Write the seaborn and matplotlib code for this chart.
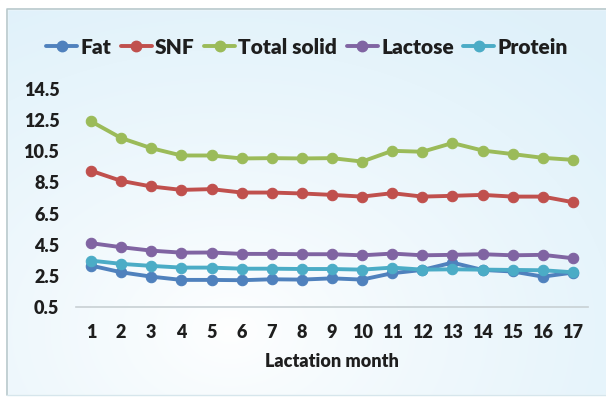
import numpy as np
import pandas as pd
import matplotlib
matplotlib.use("Agg")
import matplotlib.pyplot as plt
from matplotlib.patches import Rectangle
from matplotlib.lines import Line2D
import seaborn as sns

months = list(range(1, 18))
fat = [3.16, 2.73, 2.45, 2.24, 2.24, 2.22, 2.28, 2.26, 2.34, 2.26, 2.67, 2.88, 3.35, 2.88, 2.78, 2.45, 2.71]
snf = [9.25, 8.60, 8.24, 8.02, 8.07, 7.85, 7.85, 7.79, 7.70, 7.59, 7.81, 7.59, 7.64, 7.70, 7.59, 7.59, 7.23]
total_solid = [12.42, 11.35, 10.70, 10.23, 10.23, 10.04, 10.06, 10.04, 10.06, 9.84, 10.53, 10.47, 11.03, 10.55, 10.32, 10.08, 9.95]
lactose = [4.60, 4.34, 4.12, 3.99, 4.00, 3.91, 3.91, 3.89, 3.89, 3.82, 3.93, 3.82, 3.85, 3.89, 3.82, 3.85, 3.63]
protein = [3.48, 3.27, 3.14, 3.03, 3.03, 2.96, 2.96, 2.94, 2.94, 2.90, 3.03, 2.90, 2.92, 2.90, 2.88, 2.86, 2.73]
series_names = ["Fat", "SNF", "Total solid", "Lactose", "Protein"]
colors = ["#4F81BD", "#C0504D", "#9BBB59", "#8064A2", "#4BACC6"]
y_ticks = [0.5, 2.5, 4.5, 6.5, 8.5, 10.5, 12.5, 14.5]

df = pd.DataFrame({
    "month": months * 5,
    "value": fat + snf + total_solid + lactose + protein,
    "component": sum([[n] * len(months) for n in series_names], []),
})

sns.set_theme(style="white")
plt.rcParams["font.family"] = ["Lato", "DejaVu Sans"]
plt.rcParams["font.weight"] = "heavy"
TXT = "#1e1e1e"

W, H = 606, 397
fig = plt.figure(figsize=(W / 100, H / 100), dpi=100)
fig.patch.set_facecolor("white")

# soft blue panel background with a pale highlight toward the lower left
bg = fig.add_axes([0, 0, 1, 1], zorder=-10)
yy, xx = np.mgrid[0:H, 0:W]
d = np.sqrt(((xx - 230) / 520) ** 2 + ((yy - 330) / 380) ** 2)
t = np.clip(d, 0, 1) ** 0.8
c0 = np.array([1.0, 1.0, 1.0])
c1 = np.array([0.875, 0.945, 0.98])
img = c0[None, None, :] * (1 - t[..., None]) + c1[None, None, :] * t[..., None]
bg.imshow(img, extent=[0, W, H, 0], aspect="auto")
bg.set_xlim(0, W)
bg.set_ylim(H, 0)
bg.axis("off")
# white margin outside the panel frame
bg.add_patch(Rectangle((0, 0), 7, H, color="white", zorder=2))
bg.add_patch(Rectangle((0, 0), W, 9, color="white", zorder=2))
bg.add_patch(Rectangle((0, 395), W, 3, color="white", zorder=2))
bg.plot([7, 7, W + 5], [395, 9, 9], color="#b8c8cc", lw=1.2, zorder=3)
bg.plot([7, W + 5], [395, 395], color="#d6e6ec", lw=1.0, zorder=3)

ax = fig.add_axes([76 / W, 1 - 307 / H, (588 - 76) / W, (307 - 89) / H])
ax.set_facecolor("none")
sns.lineplot(data=df, x="month", y="value", hue="component", hue_order=series_names,
             palette=colors, marker="o", markersize=7.5, markeredgewidth=0.8,
             linewidth=2.8, ax=ax, legend=False)
for ln in ax.lines:
    ln.set_markeredgecolor(ln.get_color())

ax.set_xlim(0.5, 17.5)
ax.set_ylim(0.5, 14.5)
ax.set_xticks(months)
ax.set_yticks(y_ticks)
ax.set_yticklabels([f"{v:.1f}" for v in y_ticks])
ax.tick_params(axis="both", length=0, labelsize=13, colors=TXT)
ax.tick_params(axis="x", pad=12)
ax.tick_params(axis="y", pad=12)
for lbl in ax.get_xticklabels() + ax.get_yticklabels():
    lbl.set_fontweight("heavy")
for s in ["top", "right", "left"]:
    ax.spines[s].set_visible(False)
ax.spines["bottom"].set_color("#c8d0d4")
ax.spines["bottom"].set_linewidth(1.2)
ax.set_xlabel("Lactation month", fontsize=13, fontweight="heavy", color=TXT, labelpad=9)
ax.set_ylabel("")

handles = [Line2D([0], [0], color=c, lw=2.8, marker="o", markersize=7.5) for c in colors]
fig.legend(handles, series_names, loc="center", bbox_to_anchor=(307 / W, 1 - 47 / H),
           ncol=5, frameon=False, prop={"weight": "heavy", "size": 15},
           handlelength=1.5, handletextpad=0.15, columnspacing=0.45, labelcolor=TXT)

fig.savefig("out.png", dpi=100)
